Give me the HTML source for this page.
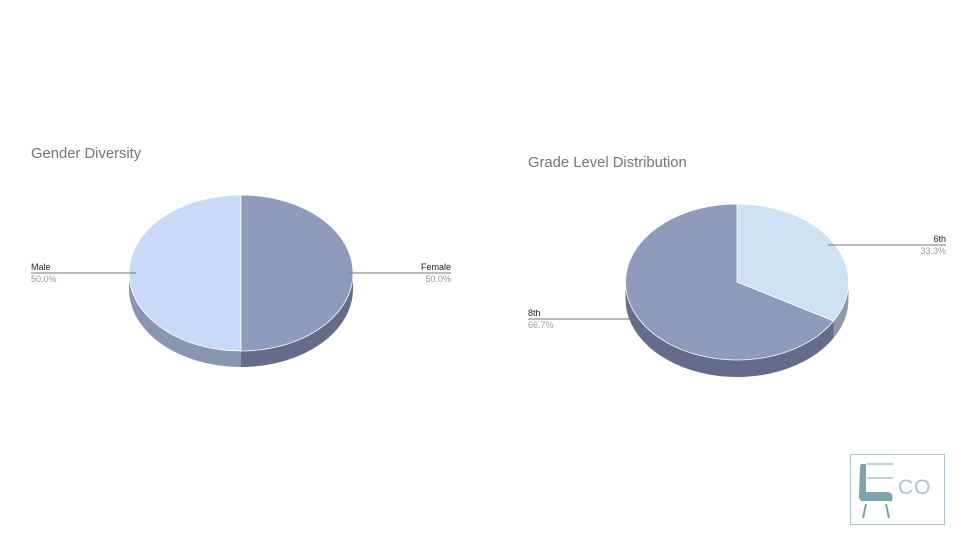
<!DOCTYPE html>
<html><head><meta charset="utf-8">
<style>
body{margin:0;background:#fff;width:960px;height:540px;overflow:hidden;font-family:"Liberation Sans",Arial,sans-serif}
svg{display:block}
</style></head>
<body>
<svg id="chart" width="960" height="540">
<text x="31" y="158" font-size="14.8" fill="#757575">Gender Diversity</text>
<text x="528" y="167" font-size="14.8" fill="#757575">Grade Level Distribution</text>
<g id="g1"></g>
<g id="g2"></g>
<g>
<rect x="850.5" y="454.5" width="94" height="70" fill="none" stroke="#a9c6ce" stroke-width="1"/>
<path d="M861 464 L866 464 L866 492 L888 492 Q894 493 892 501 L862 501 Q859 500 859 496 L860 467 Z" fill="#7fa3ad"/>
<line x1="866" y1="504" x2="863" y2="518" stroke="#7fa3ad" stroke-width="2"/>
<line x1="886" y1="504" x2="889" y2="518" stroke="#7fa3ad" stroke-width="2"/>
<line x1="867" y1="464" x2="893" y2="464" stroke="#a9c6ce" stroke-width="1.5"/>
<line x1="867" y1="478" x2="893" y2="478" stroke="#a9c6ce" stroke-width="1.5"/>
<text x="898" y="494" font-size="21" fill="#a9c6ce" letter-spacing="1">CO</text>
</g>
</svg>
<script>
const genderCats = ["Male","Female"];
const genderVals = [50,50];
const gradeCats = ["6th","8th"];
const gradeVals = [1,2];

const NS="http://www.w3.org/2000/svg";
function mk(parent,tag,attrs){const e=document.createElementNS(NS,tag);for(const k in attrs)e.setAttribute(k,attrs[k]);parent.appendChild(e);return e;}

function drawPie(gid,cats,vals,cfg){
  const g=document.getElementById(gid);
  const tot=vals.reduce((a,b)=>a+b,0);
  const P=(a,dy)=>[cfg.cx+cfg.rx*Math.sin(a),cfg.cy-cfg.ry*Math.cos(a)+dy];
  let a0=cfg.start*Math.PI/180;
  const slices=[];
  vals.forEach((v,i)=>{const a1=a0+v/tot*2*Math.PI;slices.push([a0,a1]);a0=a1;});
  slices.forEach(([s,e],i)=>{
    const ranges=[[Math.max(s,Math.PI/2),Math.min(e,3*Math.PI/2)],[Math.max(s,Math.PI/2+2*Math.PI),Math.min(e,3*Math.PI/2+2*Math.PI)]];
    ranges.forEach(([l,h])=>{
      if(h<=l)return;
      const p1=P(l,0),p2=P(h,0),p3=P(h,cfg.d),p4=P(l,cfg.d);
      const lg=(h-l)>Math.PI?1:0;
      const side=mk(g,"path",{d:`M${p1}L${p4}A${cfg.rx},${cfg.ry} 0 ${lg} 1 ${p3}L${p2}A${cfg.rx},${cfg.ry} 0 ${lg} 0 ${p1}Z`,fill:cfg.side[i]});
      
      
    });
  });
  slices.forEach(([s,e],i)=>{
    const p1=P(s,0),p2=P(e,0),c=[cfg.cx,cfg.cy];
    const lg=(e-s)>Math.PI?1:0;
    const top=mk(g,"path",{d:`M${c}L${p1}A${cfg.rx},${cfg.ry} 0 ${lg} 1 ${p2}Z`,fill:cfg.top[i],stroke:"#fff","stroke-width":0.8});
    
    
  });
  slices.forEach(([s,e],i)=>{
    const L=cfg.labels[i];
    const ln=mk(g,"line",{x1:L.x1,y1:L.y,x2:L.x2,y2:L.y,stroke:"#777","stroke-width":1});
    
    
    const t=mk(g,"text",{x:L.tx,y:L.y-3,"font-size":9,fill:"#222","text-anchor":L.anchor});
    t.textContent=cats[i];
    
    
    const p=mk(g,"text",{x:L.tx,y:L.y+9,"font-size":9,fill:"#999","text-anchor":L.anchor});
    p.textContent=(vals[i]/tot*100).toFixed(1)+"%";
    
    
  });
}

drawPie("g1",genderCats,genderVals,{cx:241,cy:273,rx:112,ry:78,d:16,start:180,
  top:["#c9daf8","#8e9bbd"],side:["#8896b1","#656c8a"],
  labels:[{x1:31,x2:136,y:273,tx:31,anchor:"start"},{x1:349,x2:451,y:273,tx:451,anchor:"end"}]});
drawPie("g2",gradeCats,gradeVals,{cx:737,cy:282,rx:111.5,ry:78,d:17,start:0,
  top:["#cfe2f3","#8e9bbd"],side:["#8e9aa6","#656c8a"],
  labels:[{x1:828,x2:946,y:245,tx:946,anchor:"end"},{x1:528,x2:630,y:319,tx:528,anchor:"start"}]});
</script>
</body></html>
